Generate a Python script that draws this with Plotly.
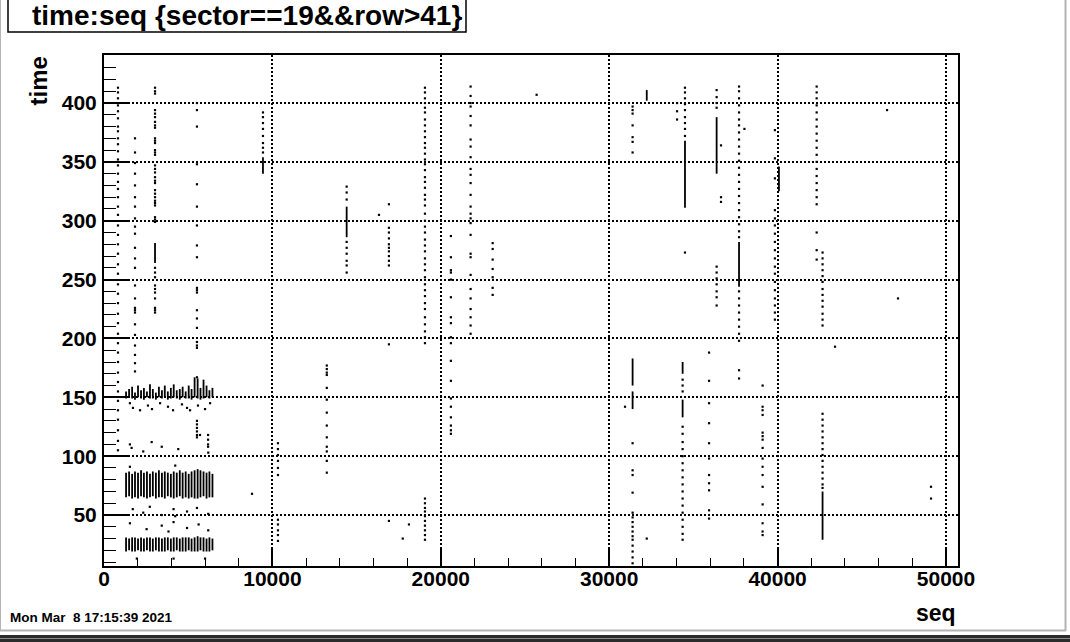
import plotly.graph_objects as go

# ---------------- data ----------------
title_text = "time:seq {sector==19&&row>41}"
x_title = "seq"
y_title = "time"
date_text = "Mon Mar  8 17:15:39 2021"

x_ticks = [0, 10000, 20000, 30000, 40000, 50000]
x_tick_labels = ["0", "10000", "20000", "30000", "40000", "50000"]
y_ticks = [50, 100, 150, 200, 250, 300, 350, 400]
y_tick_labels = ["50", "100", "150", "200", "250", "300", "350", "400"]

# dense bands of the first runs (seq 1300-6500)
band_x = [1310, 1490, 1670, 1840, 2020, 2200, 2370, 2550, 2730, 2900,
          3080, 3260, 3440, 3610, 3790, 3970, 4140, 4320, 4500, 4670,
          4850, 5030, 5200, 5380, 5560, 5730, 5910, 6090, 6260, 6440]
band_low_lo = [19, 20, 19, 19, 20, 19, 19, 20, 19, 19, 20, 19, 19, 19, 20,
               19, 19, 20, 19, 19, 19, 20, 19, 19, 19, 20, 19, 19, 19, 20]
band_low_hi = [31, 30, 31, 31, 30, 31, 30, 31, 31, 30, 31, 31, 30, 31, 31,
               30, 31, 31, 30, 31, 31, 31, 30, 31, 32, 31, 31, 30, 31, 30]
band_mid_lo = [65, 66, 64, 65, 64, 66, 65, 64, 65, 66, 64, 65, 65, 64, 66,
               65, 64, 65, 66, 64, 65, 64, 65, 64, 64, 65, 66, 64, 65, 65]
band_mid_hi = [86, 87, 85, 87, 86, 88, 86, 87, 85, 87, 86, 88, 86, 87, 86,
               85, 87, 86, 88, 86, 87, 85, 87, 88, 89, 88, 87, 86, 87, 85]
band_top_lo = [149, 150, 149, 148, 150, 149, 148, 150, 149, 149, 148, 150, 149, 150, 148,
               149, 150, 149, 148, 150, 149, 149, 148, 150, 149, 148, 149, 150, 149, 150]
band_top_hi = [155, 157, 159, 154, 160, 156, 158, 155, 161, 157, 154, 159, 156, 160, 155,
               158, 161, 156, 157, 159, 155, 160, 157, 167, 166, 158, 165, 160, 156, 158]

# solid vertical streaks elsewhere: seq, time low, time high
streak_x = [9440, 14410, 32230, 34500, 36380, 37710, 40080, 31390, 31390,
            34360, 34360, 42670, 3030]
streak_lo = [340, 286, 402, 311, 340, 244, 325, 160, 140, 170, 133, 29, 264]
streak_hi = [354, 312, 411, 368, 388, 282, 346, 183, 155, 180, 148, 70, 281]

# individual hits
dot_x = (
    [830] * 43
    + [1840] * 24
    + [3030] * 40
    + [5520] * 19
    + [5520] * 6 + [5700, 6180, 6180, 6180, 6180]
    + [9440] * 8
    + [10330] * 11
    + [8790]
    + [13230] * 13
    + [14410] * 9
    + [16330]
    + [16920] * 12
    + [18110, 17740]
    + [19060] * 53
    + [20600] * 18
    + [21770] * 27
    + [23080] * 7
    + [25690, 30940]
    + [31390] * 22
    + [32230, 34030, 34030, 34030]
    + [34500] * 10
    + [34360] * 20
    + [35930] * 11
    + [36380] * 11
    + [36640] * 3
    + [37710] * 33
    + [38030]
    + [39840] * 18
    + [39110] * 16
    + [42320] * 21
    + [42670] * 27
    + [43410, 46500, 47150, 49110, 49110]
    + [1540, 1720, 2140, 2610, 2850, 3330, 3800, 4100, 4630, 4930, 5110, 5580, 6000, 6300]
    + [1540, 1640, 2330, 2830, 3430, 4410, 6190]
    + [1710, 2330, 2720, 3430, 4130, 4230, 4930, 5520, 6190]
    + [1540, 2530, 3430, 3830, 4130, 4930, 5620, 6190]
    + [1950, 4130, 6000, 1540, 4230]
)
dot_y = (
    [413, 409, 404, 398, 393, 387, 380, 376, 370, 365, 359, 352, 347, 340, 333,
     327, 320, 312, 305, 296, 288, 280, 272, 263, 255, 246, 238, 230, 221, 213,
     204, 196, 188, 180, 171, 163, 155, 147, 139, 131, 122, 113, 105]
    + [370, 358, 349, 340, 330, 320, 312, 302, 295, 289, 277, 268, 260, 245, 234,
       226, 224, 222, 212, 203, 194, 186, 179, 172]
    + [413, 410, 408, 394, 391, 388, 384, 381, 379, 370, 368, 366, 360, 358, 356,
       347, 344, 341, 337, 334, 332, 326, 323, 320, 317, 315, 313, 303, 301, 299,
       260, 256, 252, 245, 242, 239, 234, 226, 224, 222]
    + [400, 394, 380, 348, 331, 312, 296, 279, 269, 243, 241, 239, 224, 217, 209,
       197, 194, 192, 167]
    + [130, 127, 124, 121, 118, 116, 118, 118, 114, 110, 108]
    + [392, 388, 383, 378, 372, 366, 362, 358]
    + [111, 106, 101, 96, 90, 84, 46, 42, 37, 33, 28]
    + [68]
    + [177, 174, 171, 169, 158, 148, 137, 126, 116, 108, 104, 96, 86]
    + [329, 324, 318, 282, 277, 272, 266, 262, 256]
    + [305]
    + [314, 294, 290, 285, 280, 277, 274, 270, 266, 262, 195, 45]
    + [42, 30]
    + [413, 409, 404, 400, 396, 392, 386, 381, 376, 371, 366, 362, 357, 352, 348,
       343, 337, 333, 328, 322, 318, 313, 306, 300, 295, 290, 284, 279, 274, 268,
       263, 258, 252, 246, 241, 236, 230, 225, 218, 212, 206, 201, 196,
       64, 60, 56, 53, 49, 45, 41, 37, 33, 29]
    + [287, 269, 258, 256, 250, 235, 218, 213, 201, 196, 181, 164, 149, 142, 133,
       126, 122, 119]
    + [414, 406, 400, 397, 389, 381, 369, 363, 354, 344, 339, 332, 322, 312, 306,
       302, 298, 288, 272, 269, 254, 242, 234, 225, 218, 211, 204]
    + [281, 276, 267, 259, 252, 243, 237]
    + [407, 142]
    + [397, 394, 391, 381, 371, 367, 358, 111, 88, 84, 69, 52, 48, 44, 40, 36,
       32, 29, 24, 19, 14, 9]
    + [30, 400, 393, 386]
    + [413, 409, 404, 399, 394, 388, 383, 378, 372, 273]
    + [165, 160, 155, 125, 119, 112, 106, 100, 94, 88, 82, 76, 70, 64, 58, 52,
       46, 40, 34, 29]
    + [188, 164, 145, 128, 111, 98, 84, 77, 71, 54, 47]
    + [411, 405, 400, 396, 261, 256, 251, 246, 240, 235, 228]
    + [364, 320, 316]
    + [414, 410, 404, 398, 392, 386, 381, 375, 369, 363, 357, 351, 345, 339, 333,
       327, 321, 315, 309, 303, 297, 291, 286, 240, 234, 228, 222, 216, 210, 204,
       198, 173, 166]
    + [378]
    + [377, 353, 336, 309, 302, 296, 289, 282, 275, 268, 261, 255, 248, 241, 234,
       228, 222, 216]
    + [160, 142, 139, 135, 120, 117, 114, 107, 98, 91, 84, 74, 59, 43, 36, 33]
    + [414, 409, 404, 398, 392, 386, 380, 374, 368, 362, 356, 350, 344, 338, 332,
       326, 320, 314, 290, 275, 267]
    + [273, 268, 263, 258, 253, 248, 242, 237, 232, 227, 221, 216, 211,
       136, 131, 126, 121, 116, 111, 106, 101, 96, 91, 86, 81, 76, 73]
    + [193, 394, 234, 74, 64]
    + [145, 141, 139, 143, 140, 145, 142, 139, 144, 141, 139, 143, 140, 145]
    + [110, 107, 104, 112, 108, 106, 103]
    + [55, 52, 57, 50, 55, 49, 53, 56, 51]
    + [43, 38, 41, 36, 44, 39, 42, 37]
    + [13, 13, 13, 91, 92]
)

# ---------------- figure ----------------
FONT = "Liberation Sans, Arial, Helvetica, sans-serif"
L, R, T, B = 104, 958, 55, 566
W, H = 1070, 642


def px(x):
    return (x - L) / (R - L)


def py(y):
    return (B - y) / (B - T)


def segments(xs, los, his):
    sx, sy = [], []
    for xv, lo, hi in zip(xs, los, his):
        sx += [xv, xv, None]
        sy += [lo, hi, None]
    return sx, sy


fig = go.Figure()

all_x, all_lo, all_hi = [], [], []
for lo_list, hi_list in ((band_low_lo, band_low_hi), (band_mid_lo, band_mid_hi),
                         (band_top_lo, band_top_hi)):
    all_x += band_x
    all_lo += lo_list
    all_hi += hi_list
all_x += streak_x
all_lo += streak_lo
all_hi += streak_hi
sx, sy = segments(all_x, all_lo, all_hi)

fig.add_trace(go.Scatter(x=sx, y=sy, mode="lines",
                         line=dict(color="black", width=1.8),
                         hoverinfo="skip", showlegend=False))
fig.add_trace(go.Scatter(x=dot_x, y=dot_y, mode="markers",
                         marker=dict(symbol="square", size=2.2, color="black",
                                     line=dict(width=0)),
                         showlegend=False))

axis_common = dict(
    showline=True, linecolor="black", linewidth=2, mirror=True,
    ticks="inside", tickcolor="black", tickwidth=1.5,
    showgrid=True, gridcolor="black", gridwidth=1.5, griddash="2px,2px",
    zeroline=False, tickmode="array",
    tickfont=dict(family=FONT, size=21, color="black", weight="bold"),
)

fig.update_xaxes(range=[0, 50713], tickvals=x_ticks, ticktext=x_tick_labels,
                 ticklen=17, ticklabelstandoff=-7,
                 minor=dict(tickvals=[v for v in range(2000, 50713, 2000)
                                      if v not in x_ticks],
                            ticks="inside", ticklen=8,
                            tickwidth=1, tickcolor="black", showgrid=False),
                 **axis_common)
fig.update_yaxes(range=[6.7, 440.8], tickvals=y_ticks, ticktext=y_tick_labels,
                 ticklen=25, ticklabelstandoff=1,
                 minor=dict(tickvals=[v for v in range(10, 441, 10)
                                      if v not in y_ticks],
                            ticks="inside", ticklen=12,
                            tickwidth=1, tickcolor="black", showgrid=False),
                 **axis_common)

shapes = [
    # title box
    dict(type="rect", xref="paper", yref="paper",
         x0=px(8), x1=px(466), y0=py(32), y1=py(-3),
         line=dict(color="black", width=1.5), fillcolor="white"),
    # canvas border (right, bottom, left) and window bar
    dict(type="line", xref="paper", yref="paper",
         x0=px(1065.5), x1=px(1065.5), y0=py(0), y1=py(631),
         line=dict(color="#b4b4b4", width=2)),
    dict(type="line", xref="paper", yref="paper",
         x0=px(0), x1=px(1066), y0=py(630.5), y1=py(630.5),
         line=dict(color="#b4b4b4", width=2)),
    dict(type="line", xref="paper", yref="paper",
         x0=px(0.5), x1=px(0.5), y0=py(0), y1=py(631),
         line=dict(color="#b4b4b4", width=1)),
    dict(type="rect", xref="paper", yref="paper",
         x0=px(0), x1=px(1070), y0=py(635), y1=py(643),
         line=dict(width=0), fillcolor="#2b2b2b"),
    dict(type="line", xref="paper", yref="paper",
         x0=px(0), x1=px(1070), y0=py(638.5), y1=py(638.5),
         line=dict(color="#8a8a8a", width=1)),
]

annotations = [
    dict(text=title_text, xref="paper", yref="paper", x=px(247), y=py(15),
         xanchor="center", yanchor="middle", showarrow=False,
         font=dict(family=FONT, size=28, color="black", weight="bold")),
    dict(text=x_title, xref="paper", yref="paper", x=px(958), y=py(613),
         xanchor="right", yanchor="middle", showarrow=False,
         font=dict(family=FONT, size=23, color="black", weight="bold")),
    dict(text=y_title, xref="paper", yref="paper", x=px(38), y=py(55),
         xanchor="center", yanchor="top", textangle=-90, showarrow=False,
         font=dict(family=FONT, size=24, color="black", weight="bold")),
    dict(text=date_text, xref="paper", yref="paper", x=px(8), y=py(617),
         xanchor="left", yanchor="middle", showarrow=False,
         font=dict(family=FONT, size=13.5, color="black", weight="bold")),
]

fig.update_layout(
    width=W, height=H,
    margin=dict(l=L, r=W - R, t=T, b=H - B, pad=0),
    paper_bgcolor="white", plot_bgcolor="white",
    showlegend=False, shapes=shapes, annotations=annotations,
    font=dict(family=FONT, color="black"),
)

fig.write_html("out.html",
               config={"displayModeBar": False},
               post_script="document.body.style.margin='0';"
                           "document.body.style.overflow='hidden';")
